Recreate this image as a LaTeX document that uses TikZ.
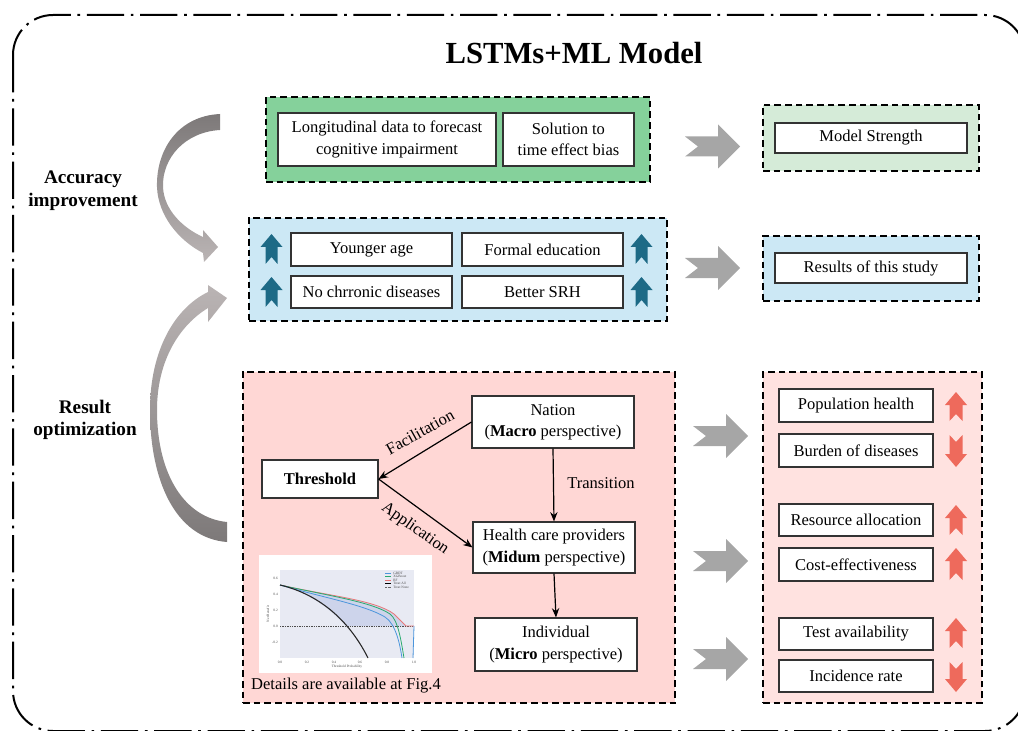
\documentclass[tikz,border=0pt]{standalone}
\usepackage{fontspec}
\setmainfont{Liberation Serif}
\usetikzlibrary{arrows.meta}
\definecolor{greenfill}{RGB}{133,209,155}
\definecolor{lightgreen}{RGB}{213,235,216}
\definecolor{bluefill}{RGB}{204,232,245}
\definecolor{pinkL}{RGB}{255,215,213}
\definecolor{pinkR}{RGB}{255,226,224}
\definecolor{arrgray}{RGB}{166,166,166}
\definecolor{tealarr}{RGB}{29,106,134}
\definecolor{salmon}{RGB}{238,106,92}
\definecolor{plotbg}{RGB}{232,234,243}
\definecolor{areafill}{RGB}{205,212,235}
\definecolor{cblue}{RGB}{76,150,220}
\definecolor{cgreen}{RGB}{40,170,110}
\definecolor{cred}{RGB}{232,120,120}
\definecolor{darkarc}{RGB}{125,121,121}
\definecolor{lightarc}{RGB}{186,180,180}
\newcommand\mainfs{\fontsize{12.4}{16}\selectfont}
\newcommand\cornernode[7][]{\node[#1, minimum width={(#5-#3)*0.75pt}, minimum height={(#6-#4)*0.75pt}] (#2) at ({(#3+#5)/2},{(#4+#6)/2}) {#7};}
% vertical block arrow: style, cx, ytip, ytail, head half width, shaft half width, head length (signed), notch (signed)
\newcommand\varrow[8]{\fill[#1] (#2,#3) -- ({#2+#5},{#3+#7}) -- ({#2+#6},{#3+#7}) -- ({#2+#6},#4) -- (#2,{#4-#8}) -- ({#2-#6},#4) -- ({#2-#6},{#3+#7}) -- ({#2-#5},{#3+#7}) -- cycle;}
% horizontal gray block arrow centred at (cx,cy)
\newcommand\grayarrow[2]{\fill[arrgray] ({#1-27},{#2-10}) -- ({#1+6},{#2-10}) -- ({#1+6},{#2-22}) -- ({#1+28},#2) -- ({#1+6},{#2+22}) -- ({#1+6},{#2+10}) -- ({#1-27},{#2+10}) -- ({#1-14},#2) -- cycle;}
\begin{document}
\begin{tikzpicture}[x=0.75pt,y=-0.75pt,
  frame/.style={draw=black, line width=1.5pt, dash pattern=on 28pt off 5pt on 2pt off 5pt},
  cont/.style={draw=black, line width=1.4pt, dash pattern=on 5pt off 3pt, inner sep=0pt},
  box/.style={draw=black!80, fill=white, line width=0.8pt, align=center, inner sep=0pt, font=\mainfs},
  lbl/.style={font=\mainfs, inner sep=0pt},
  sidelbl/.style={font=\fontsize{14.4}{17}\selectfont\bfseries, align=center},
  conn/.style={-{Stealth[length=7pt,width=5.5pt]}, line width=0.9pt, black},
  tiny/.style={font=\fontsize{2.6}{3}\selectfont, inner sep=0pt, text=black!70}]
\useasboundingbox (0,0) rectangle (1018,731);
\begin{scope}
\clip (0,0) rectangle (1018,731);
\draw[frame, rounded corners=30pt] (13,15) rectangle (1025,731);
\end{scope}

\node[font=\fontsize{23}{27}\selectfont\bfseries] (title) at (574,53) {LSTMs+ML Model};

\node[sidelbl] (acc) at (83,191) {Accuracy\\improvement};
\node[sidelbl] (res) at (85,420) {Result\\optimization};

% curved arrows
\shade[top color=darkarc, bottom color=lightarc]
  (220,114) .. controls (178,116) and (156,150) .. (157,187)
  .. controls (158,215) and (178,240) .. (203,253)
  -- (204,262) -- (218,247) -- (203,230) -- (203,237)
  .. controls (183,228) and (164,210) .. (163,187)
  .. controls (162,158) and (185,132) .. (220,130) -- cycle;
\shade[top color=lightarc, bottom color=darkarc]
  (227,542) .. controls (175,538) and (150,480) .. (150,410)
  .. controls (150,350) and (175,308) .. (208,292)
  -- (208,285) -- (227,298) -- (208,322) -- (208,308)
  .. controls (180,325) and (157,360) .. (157,410)
  .. controls (157,475) and (185,518) .. (227,522) -- cycle;

% top green section
\cornernode[cont, fill=greenfill]{green}{266}{97}{650}{182}{}
\cornernode[box]{longi}{278}{113}{496}{166}{Longitudinal data to forecast\\cognitive impairment}
\cornernode[box]{sol}{503}{113}{634}{166}{Solution to\\time effect bias}
\grayarrow{712}{146.5}
\cornernode[cont, fill=lightgreen]{strcont}{763}{105}{979}{171}{}
\cornernode[box]{strength}{775}{123}{967}{153}{Model Strength}

% blue section
\cornernode[cont, fill=bluefill]{blue}{249}{218}{667}{321}{}
\cornernode[box]{young}{291}{233}{452}{266}{Younger age}
\cornernode[box]{formal}{462}{233}{623}{266}{Formal education}
\cornernode[box]{chronic}{291}{276}{452}{308}{No chrronic diseases}
\cornernode[box]{srh}{462}{276}{623}{308}{Better SRH}
\varrow{tealarr}{271.5}{234}{264}{11}{6}{13}{7}
\varrow{tealarr}{271.5}{277}{307}{11}{6}{13}{7}
\varrow{tealarr}{641.5}{234}{264}{11}{6}{13}{7}
\varrow{tealarr}{641.5}{277}{307}{11}{6}{13}{7}
\grayarrow{712}{268}
\cornernode[cont, fill=bluefill]{rescont}{763}{236}{979}{301}{}
\cornernode[box]{results}{775}{253}{967}{283}{Results of this study}

% pink left section
\cornernode[cont, fill=pinkL]{pinkleft}{243}{372}{675}{703}{}
\cornernode[box]{nation}{472}{396}{634}{448}{Nation\\(\textbf{Macro} perspective)}
\cornernode[box]{thr}{262}{460}{378}{498}{\textbf{Threshold}}
\cornernode[box]{health}{473}{522}{635}{573}{Health care providers\\(\textbf{Midum} perspective)}
\cornernode[box]{indiv}{475}{618}{637}{671}{Individual\\(\textbf{Micro} perspective)}
\draw[conn] (nation.west) -- (thr.east);
\draw[conn] (thr.east) -- (health.west);
\draw[conn] (nation.south) -- (health.north);
\draw[conn] (health.south) -- (indiv.north);
\node[lbl, rotate=29] (facil) at (420,432) {Facilitation};
\node[lbl, rotate=-35] (appl) at (415,529) {Application};
\node[lbl] (trans) at (601,483) {Transition};

% chart
\cornernode[fill=white, inner sep=0pt]{chart}{259}{555}{432}{673}{}
\fill[plotbg] (280,570) rectangle (414,658);
\fill[areafill] (280,585) .. controls (330,596) and (375,600) .. (394,614) -- (406,626) -- (346,626)
  .. controls (328,606) and (305,591) .. (280,585) -- cycle;
\draw[black!70, line width=0.5pt, dash pattern=on 1pt off 0.8pt] (280,626) -- (414,626);
\draw[cred, line width=0.6pt] (280,585) .. controls (330,596) and (375,600) .. (394,614) -- (406,626) -- (414,626);
\draw[cgreen, line width=0.6pt] (280,585) .. controls (330,596) and (372,602) .. (390,614) .. controls (398,620) and (401,640) .. (404,658);
\draw[cblue, line width=0.6pt] (280,585) .. controls (325,598) and (365,605) .. (385,617) .. controls (396,624) and (400,645) .. (402,658);
\draw[cblue, line width=0.6pt] (413,658) -- (414,626);
\draw[black!85, line width=0.8pt] (280,585) .. controls (310,592) and (345,612) .. (368,658);
\draw[cblue, line width=0.4pt] (385,573) -- (391,573);
\draw[cgreen, line width=0.4pt] (385,576.5) -- (391,576.5);
\draw[cred, line width=0.4pt] (385,580) -- (391,580);
\draw[black, line width=0.4pt] (385,583.5) -- (391,583.5);
\draw[black!60, line width=0.4pt, dash pattern=on 0.6pt off 0.4pt] (385,587) -- (391,587);
\node[tiny, anchor=west] (lg1) at (393,573) {GBDT};
\node[tiny, anchor=west] (lg2) at (393,576.5) {XGBoost};
\node[tiny, anchor=west] (lg3) at (393,580) {RF};
\node[tiny, anchor=west] (lg4) at (393,583.5) {Treat All};
\node[tiny, anchor=west] (lg5) at (393,587) {Treat None};
\foreach \v/\yy in {0.6/578,0.4/594,0.2/610,0.0/626,-0.2/642} \node[tiny, anchor=east] at (278,\yy) {\v};
\foreach \v/\xx in {0.0/280,0.2/307,0.4/334,0.6/360,0.8/387,1.0/414} \node[tiny] at (\xx,662) {\v};
\node[tiny] (xlab) at (347,667) {Threshold Probability};
\node[tiny, rotate=90] (ylab) at (268,614) {Net Benefit};
\node[lbl] (details) at (346,686) {Details are available at Fig.4};

% gray arrows to right section
\grayarrow{720}{436}
\grayarrow{720}{561}
\grayarrow{720}{659}

% pink right section
\cornernode[cont, fill=pinkR]{pinkright}{763}{372}{982}{703}{}
\cornernode[box]{pop}{779}{389}{933}{422}{Population health}
\cornernode[box]{burden}{779}{434}{933}{467}{Burden of diseases}
\cornernode[box]{resource}{779}{504}{933}{536}{Resource allocation}
\cornernode[box]{cost}{779}{548}{933}{581}{Cost-effectiveness}
\cornernode[box]{test}{779}{618}{933}{650}{Test availability}
\cornernode[box]{incid}{779}{660}{933}{692}{Incidence rate}
\varrow{salmon}{956}{392}{421}{11}{6.5}{13}{7}
\varrow{salmon}{956}{467}{435}{11}{6.5}{-13}{-7}
\varrow{salmon}{956}{505}{535}{11}{6.5}{13}{7}
\varrow{salmon}{956}{548}{580}{11}{6.5}{13}{7}
\varrow{salmon}{956}{618}{648}{11}{6.5}{13}{7}
\varrow{salmon}{956}{692}{662}{11}{6.5}{-13}{-7}
\end{tikzpicture}
\end{document}
